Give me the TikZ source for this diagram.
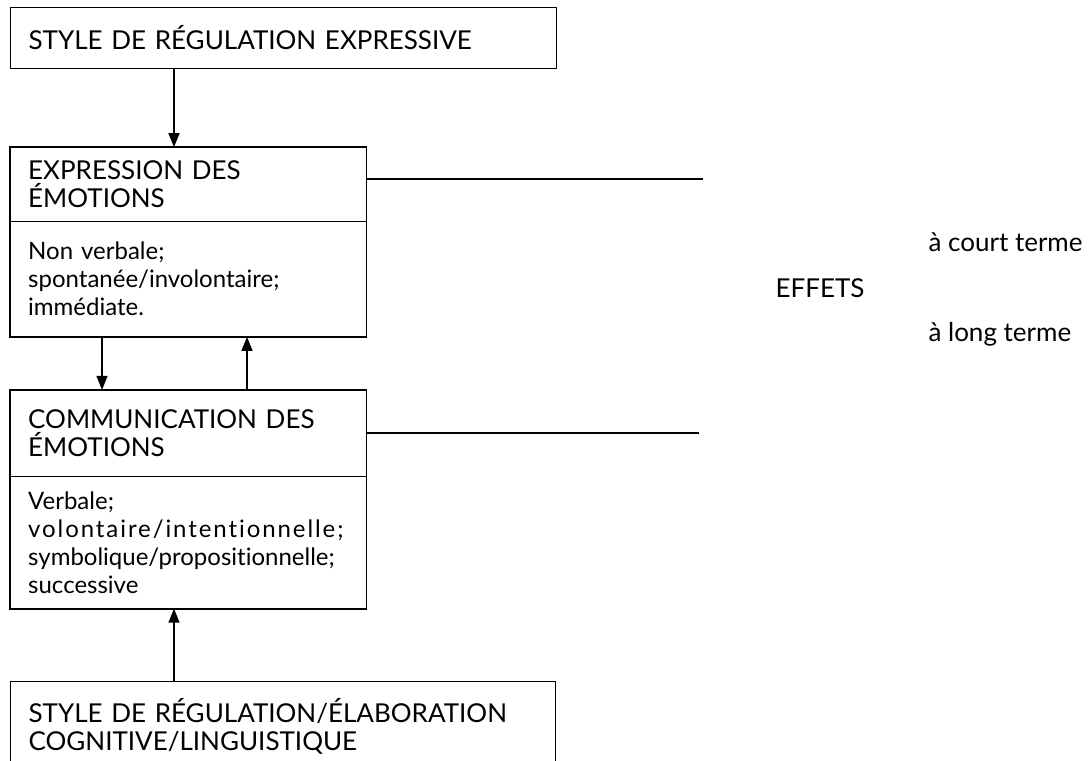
\documentclass[tikz,border=0pt]{standalone}
\usepackage{fontspec}
\setmainfont{Lato}[Ligatures=NoCommon]
\usetikzlibrary{positioning, arrows.meta}

\begin{document}
\begin{tikzpicture}[
        x=1pt, y=-1pt,
        line join=miter,
        font=\fontsize{24}{28}\selectfont,
        part/.style={anchor=north west, align=left, inner xsep=18pt, inner ysep=0pt,
            text width=320pt, minimum height=#1},
        caps/.style={font=\fontsize{26}{28}\selectfont},
        outer/.style={draw, line width=1.1pt},
        frame/.style={line width=1.8pt},
        divider/.style={line width=0.9pt},
        arrow/.style={line width=1.5pt, -{Triangle[length=14pt, width=11pt]}},
        effect/.style={line width=1.2pt}
    ]
    \useasboundingbox (0,0) rectangle (1088,761);
    \clip (0,0) rectangle (1088,761);
    \node[part=61, outer, caps, text width=510pt] (regexpr) at (10,7) {STYLE DE RÉGULATION EXPRESSIVE};
    % expression
    \node[part=74, caps, below=78pt of regexpr.south west, anchor=north west] (exprhead) {EXPRESSION DES\\ÉMOTIONS};
    \node[part=115, below=0pt of exprhead] (exprbody) {Non verbale;\\spontanée/involontaire;\\immédiate.};
    \draw[frame] (exprhead.north west) rectangle (exprbody.south east);
    \draw[divider] (exprhead.south west) -- (exprhead.south east);
    % communication
    \node[part=86, caps, below=53pt of exprbody.south west, anchor=north west] (commhead) {COMMUNICATION DES\\ÉMOTIONS};
    \node[part=132, below=0pt of commhead] (commbody) {Verbale;\\{\addfontfeatures{LetterSpace=8}volontaire/intentionnelle;}\\symbolique/propositionnelle;\\successive};
    \draw[frame] (commhead.north west) rectangle (commbody.south east);
    \draw[divider] (commhead.south west) -- (commhead.south east);
    \node[part=90, outer, caps, text width=509pt, below=72pt of commbody.south west, anchor=north west] (regcogn) {STYLE DE RÉGULATION/ÉLABORATION\\COGNITIVE/LINGUISTIQUE};
    % fleches
    \draw[arrow] ([xshift=164pt]regexpr.south west) -- ([xshift=164pt]exprhead.north west);
    \draw[arrow] ([xshift=92pt]exprbody.south west) -- ([xshift=92pt]commhead.north west);
    \draw[arrow] ([xshift=237pt]commhead.north west) -- ([xshift=237pt]exprbody.south west);
    \draw[arrow] ([xshift=164pt]regcogn.north west) -- ([xshift=164pt]commbody.south west);
    % effets
    \coordinate (courtend) at (703,179);
    \coordinate (longend) at (699,433);
    \draw[effect] (exprhead.east |- courtend) -- (courtend);
    \draw[effect] (commhead.east |- longend) -- (longend);
    \node[caps] (effets) at (820,288) {EFFETS};
    \node[caps, anchor=west] (court) at (925,242) {à court terme};
    \node[caps, anchor=west] (long) at (925,334) {à long terme};
\end{tikzpicture}
\end{document}
